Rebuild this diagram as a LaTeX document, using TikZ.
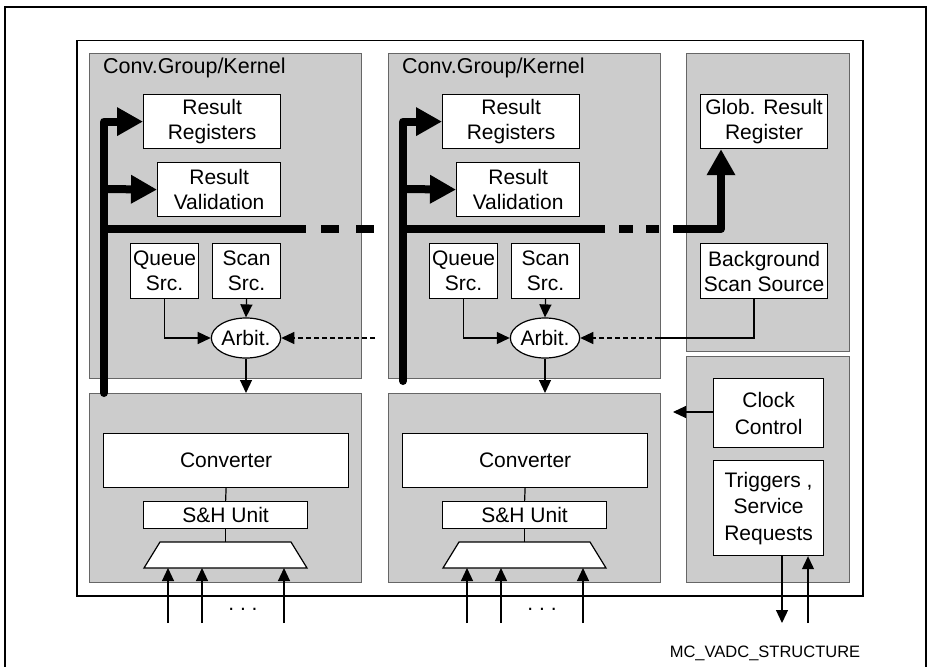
\documentclass[tikz,border=0pt]{standalone}
\usepackage{fontspec}
\setmainfont{Liberation Sans}
\usetikzlibrary{arrows.meta,shapes.geometric}
\tikzset{
  grp/.style={draw=black!60, fill=black!20, line width=1pt, anchor=north west, inner sep=0pt},
  wbox/.style={draw=black, fill=white, line width=1.2pt, anchor=north west, inner sep=0pt, align=center,
    font=\fontsize{21}{25}\selectfont},
  thinl/.style={line width=1.2pt},
  tarrow/.style={thinl, -{Triangle[length=13pt,width=12pt]}},
  dashl/.style={tarrow, dash pattern=on 5pt off 3pt},
  bus/.style={line width=8pt, line cap=butt},
  busarrow/.style={line width=8pt, line join=round, line cap=round, -{Triangle[length=26pt,width=27pt]}},
  lbl/.style={font=\fontsize{21}{25}\selectfont, inner sep=0pt},
}
\newcommand\convgrp[3]{% #1 suffix, #2 x offset, #3 bus bottom y
\begin{scope}[xshift=#2]
  \node[grp, minimum width=272, minimum height=325] (U#1) at (89,53) {};
  \node[grp, minimum width=272, minimum height=189] (L#1) at (89,393) {};
  \node[lbl, anchor=base west, font=\fontsize{21.5}{25}\selectfont] (T#1) at (103,74) {Conv.Group/Kernel};
  \node[wbox, minimum width=137, minimum height=54] (RR#1) at (143,94) {Result\\Registers};
  \node[wbox, minimum width=123, minimum height=54] (RV#1) at (157,162) {Result\\Validation};
  \node[wbox, minimum width=68, minimum height=55] (Q#1) at (130,243) {Queue\\Src.};
  \node[wbox, minimum width=68, minimum height=55] (S#1) at (212,243) {Scan\\Src.};
  \node[wbox, ellipse, anchor=center, minimum width=68, minimum height=40] (A#1) at (246,338) {Arbit.};
  \node[wbox, minimum width=245, minimum height=54] (C#1) at (103,433) {Converter};
  \node[wbox, minimum width=164, minimum height=27] (SH#1) at (143,501) {S\&H Unit};
  \coordinate (MT#1) at (225,542);
  \draw[thinl, fill=white] (144,568) -- (160,542) -- (291,542) -- (307,568) -- cycle;
  \coordinate (I1#1) at (168,568); \coordinate (I2#1) at (202,568); \coordinate (I3#1) at (284,568);
  \coordinate (J1#1) at (168,623); \coordinate (J2#1) at (202,623); \coordinate (J3#1) at (284,623);
  \draw[tarrow] (J1#1) -- (I1#1);
  \draw[tarrow] (J2#1) -- (I2#1);
  \draw[tarrow] (J3#1) -- (I3#1);
  \node[lbl] (D#1) at (243,609) {.\ .\ .};
  \draw[thinl] (C#1.south) -- (SH#1.north);
  \draw[thinl] (SH#1.south) -- (SH#1.south |- MT#1);
  \draw[tarrow] (Q#1.south) |- (A#1.west);
  \draw[tarrow] (S#1.south) -- (A#1.north);
  \draw[tarrow] (A#1.south) -- (A#1.south |- L#1.north);
  % bus
  \coordinate (BB#1) at (104,#3);
  \coordinate (BH#1) at (104,229);
  \draw[busarrow] (BB#1) |- (RR#1.west);
  \draw[busarrow, line cap=butt] (104,189) -- (RV#1.west);
  \draw[bus] (BH#1) -- (306,229);
\end{scope}}
\begin{document}
\begin{tikzpicture}[x=1pt, y=-1pt]
  \useasboundingbox (0,0) rectangle (928,666);
  % frames
  \draw[line width=2.5pt] (5,670) -- (5,7) -- (926,7) -- (926,670);
  \node[draw=black, line width=1.5pt, anchor=north west, inner sep=0pt, minimum width=786, minimum height=555] (inner) at (76,40) {};
  % groups
  \convgrp{a}{0}{393}
  \convgrp{b}{299}{381}
  % right panels
  \node[grp, minimum width=163, minimum height=298] (RU) at (686,53) {};
  \node[grp, minimum width=163, minimum height=226] (RL) at (686,356) {};
  \node[wbox, minimum width=127, minimum height=54] (GRR) at (700,94) {Glob. Result\\Register};
  \node[wbox, minimum width=127, minimum height=55] (BSS) at (700,243) {Background\\Scan Source};
  \node[wbox, minimum width=110, minimum height=69, font=\fontsize{21}{27}\selectfont] (CC) at (713,378) {Clock\\Control};
  \node[wbox, minimum width=110, minimum height=95, font=\fontsize{21}{26.5}\selectfont] (TSR) at (713,460) {Triggers ,\\Service\\Requests};
  % bus dashes and continuation
  \draw[bus] (321,229) -- (339,229);
  \draw[bus] (356,229) -- (374,229);
  \draw[bus] (619,229) -- (633,229);
  \draw[bus] (646,229) -- (659,229);
  \coordinate (BS) at (673,229);
  \coordinate (BC) at (721,229);
  \draw[busarrow, line cap=butt] (BS) -- (BC) -- (BC |- GRR.south);
  % arbitration links
  \coordinate (DA) at (375,338);
  \draw[dashl] (DA) -- (Aa.east);
  \coordinate (BSSx) at (754,298);
  \coordinate (BSSy) at (754,338);
  \coordinate (DB) at (660,338);
  \draw[thinl] (BSSx) -- (BSSy) -- (DB);
  \draw[dashl] (DB) -- (Ab.east);
  % clock and triggers
  \coordinate (CK) at (673,412);
  \draw[tarrow] (CC.west |- CK) -- (CK);
  \coordinate (TD) at (782,623);
  \coordinate (TU) at (808,623);
  \draw[tarrow] (TD |- TSR.south) -- (TD);
  \draw[tarrow] (TU) -- (TU |- TSR.south);
  \node[font=\fontsize{16.5}{19}\selectfont, inner sep=0pt] (MC) at (765,653) {MC\_VADC\_STRUCTURE};
\end{tikzpicture}
\end{document}
